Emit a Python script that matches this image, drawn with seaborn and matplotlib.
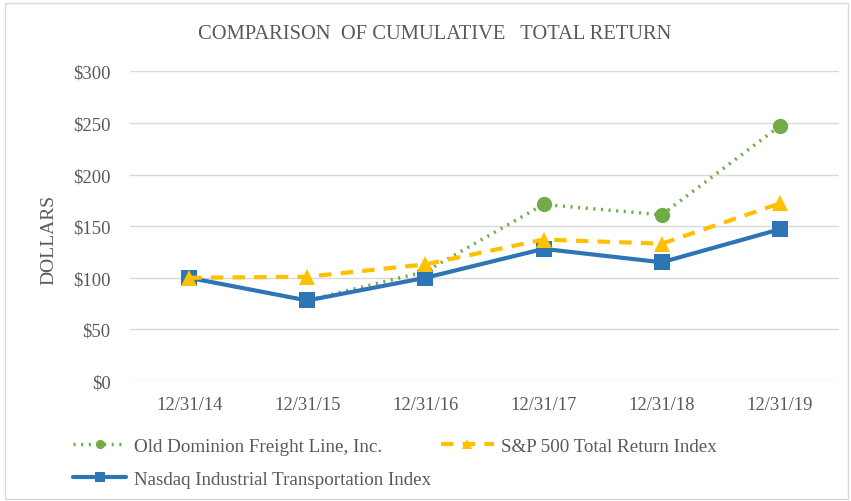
import seaborn as sns
import matplotlib.pyplot as plt
import pandas as pd
from matplotlib.ticker import FuncFormatter
from matplotlib.patches import Rectangle

# Datos
fechas = ["12/31/14", "12/31/15", "12/31/16", "12/31/17", "12/31/18", "12/31/19"]
old_dominion = [100, 78, 106, 171, 161, 247]
sp500 = [100, 101, 113, 137, 133, 172]
nasdaq = [100, 78, 100, 128, 115, 147]

df = pd.DataFrame({"fecha": fechas, "x": range(len(fechas)),
                   "Old Dominion Freight Line, Inc.": old_dominion,
                   "S&P 500 Total Return Index": sp500,
                   "Nasdaq Industrial Transportation Index": nasdaq})

sns.set_theme(style="white")
plt.rcParams["font.family"] = ["Liberation Serif", "DejaVu Serif"]

gris = "#595959"
fig = plt.figure(figsize=(8.51, 5.02), dpi=100)
ax = fig.add_axes([0.1528, 0.239, 0.833, 0.617])

sns.lineplot(data=df, x="x", y="Nasdaq Industrial Transportation Index", ax=ax,
             color="#2E75B6", lw=3, marker="s", markersize=11, markeredgewidth=0,
             label="Nasdaq Industrial Transportation Index", zorder=3)
sns.lineplot(data=df, x="x", y="S&P 500 Total Return Index", ax=ax,
             color="#FFC000", lw=3, dashes=(3, 2.2), marker="^", markersize=12,
             markeredgewidth=0, label="S&P 500 Total Return Index", zorder=4)
sns.lineplot(data=df, x="x", y="Old Dominion Freight Line, Inc.", ax=ax,
             color="#70AD47", lw=2.5, linestyle=(0, (0.6, 1.6)), marker="o",
             markersize=11, markeredgewidth=0,
             label="Old Dominion Freight Line, Inc.", zorder=2)

ax.set_xlim(-0.5, 5.5)
ax.set_ylim(0, 300)
ax.set_yticks(range(0, 301, 50))
ax.yaxis.set_major_formatter(FuncFormatter(lambda v, p: r"\$%d" % v))
ax.set_xticks(range(len(fechas)))
ax.set_xticklabels(fechas)
ax.grid(axis="y", color="#D9D9D9", lw=1)
ax.set_axisbelow(True)
for s in ax.spines.values():
    s.set_visible(False)
ax.tick_params(axis="both", colors=gris, labelsize=13.4, length=0)
ax.tick_params(axis="x", pad=11)
ax.tick_params(axis="y", pad=14)
ax.set_xlabel("")
ax.set_ylabel("DOLLARS", color=gris, fontsize=14)
ax.yaxis.set_label_coords(-0.103, 0.46)

fig.text(0.511, 0.932, "COMPARISON  OF CUMULATIVE   TOTAL RETURN", ha="center",
         va="center", color=gris, fontsize=14.8)

h, l = ax.get_legend_handles_labels()
ax.get_legend().remove()
orden = [2, 0, 1]
fig.legend([h[i] for i in orden], [l[i] for i in orden], ncol=2,
           loc="upper left", bbox_to_anchor=(0.0858, 0.126), frameon=False,
           fontsize=13.7, labelcolor=gris, handlelength=2.8, handletextpad=0.4,
           columnspacing=0.5, labelspacing=0.8, borderaxespad=0, borderpad=0,
           markerscale=0.6)

fig.patches.append(Rectangle((0.006, 0.004), 0.99, 0.988, transform=fig.transFigure,
                             fill=False, edgecolor="#D9D9D9", lw=1))
fig.savefig("out.png", dpi=100)
